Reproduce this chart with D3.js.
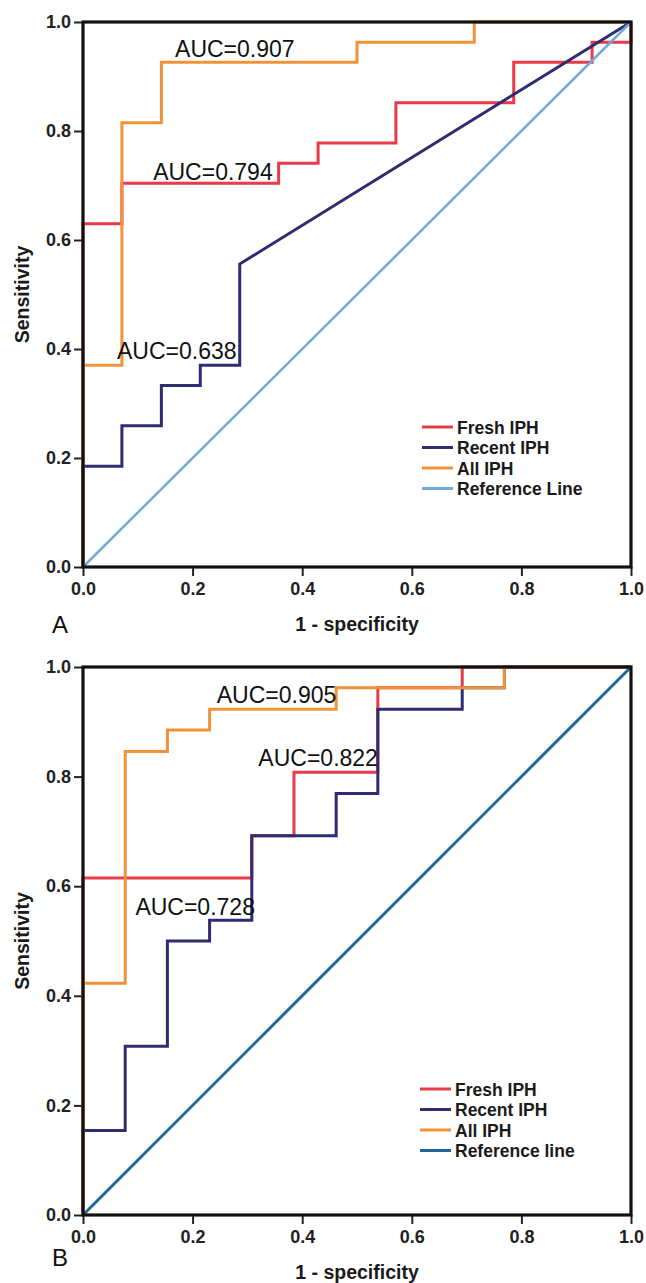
<!DOCTYPE html>
<html><head><meta charset="utf-8">
<script src="https://cdn.jsdelivr.net/npm/d3@7"></script>
<style>body{margin:0;background:#fff}svg{display:block}text{font-family:"Liberation Sans",Arial,sans-serif}</style>
</head><body>
<script>
// ---------- data ----------
const seriesNames = ["Fresh IPH", "Recent IPH", "All IPH"];
const refNameA = "Reference Line";
const refNameB = "Reference line";
const tickValues = [0.0, 0.2, 0.4, 0.6, 0.8, 1.0];

// Panel A
const fprFreshA = [0, 0, 0.071, 0.071, 0.357, 0.357, 0.429, 0.429, 0.571, 0.571, 0.786, 0.786, 0.929, 0.929, 1, 1];
const tprFreshA = [0, 0.630, 0.630, 0.704, 0.704, 0.741, 0.741, 0.778, 0.778, 0.852, 0.852, 0.926, 0.926, 0.963, 0.963, 1];
const fprRecentA = [0, 0, 0.071, 0.071, 0.143, 0.143, 0.214, 0.214, 0.286, 0.286, 1];
const tprRecentA = [0, 0.185, 0.185, 0.259, 0.259, 0.333, 0.333, 0.370, 0.370, 0.556, 1];
const fprAllA = [0, 0, 0.071, 0.071, 0.143, 0.143, 0.500, 0.500, 0.714, 0.714, 1];
const tprAllA = [0, 0.370, 0.370, 0.815, 0.815, 0.926, 0.926, 0.963, 0.963, 1, 1];
const aucA = ["AUC=0.794", "AUC=0.638", "AUC=0.907"];

// Panel B
const fprFreshB = [0, 0, 0.308, 0.308, 0.385, 0.385, 0.538, 0.538, 0.692, 0.692, 1];
const tprFreshB = [0, 0.615, 0.615, 0.692, 0.692, 0.808, 0.808, 0.962, 0.962, 1, 1];
const fprRecentB = [0, 0, 0.077, 0.077, 0.154, 0.154, 0.231, 0.231, 0.308, 0.308, 0.462, 0.462, 0.538, 0.538, 0.692, 0.692, 0.769, 0.769, 1];
const tprRecentB = [0, 0.154, 0.154, 0.308, 0.308, 0.500, 0.500, 0.538, 0.538, 0.692, 0.692, 0.769, 0.769, 0.923, 0.923, 0.962, 0.962, 1, 1];
const fprAllB = [0, 0, 0.077, 0.077, 0.154, 0.154, 0.231, 0.231, 0.462, 0.462, 0.769, 0.769, 1];
const tprAllB = [0, 0.423, 0.423, 0.846, 0.846, 0.885, 0.885, 0.923, 0.923, 0.962, 0.962, 1, 1];
const aucB = ["AUC=0.822", "AUC=0.728", "AUC=0.905"];

const refX = [0, 1];
const refY = [0, 1];

// ---------- drawing ----------
const W = 646, H = 1283;
const svg = d3.select("body").append("svg").attr("width", W).attr("height", H);
const colors = ["#e83a48", "#2f2d72", "#f29238"];

function zip(xs, ys) { return xs.map((x, i) => [x, ys[i]]); }

function panel(opt) {
  const x = d3.scaleLinear().domain([0, 1]).range([opt.left, opt.left + opt.w]);
  const y = d3.scaleLinear().domain([0, 1]).range([opt.top + opt.h, opt.top]);
  const g = svg.append("g");
  const line = d3.line().x(d => x(d[0])).y(d => y(d[1]));

  // axes
  const ax = g.append("g").attr("transform", `translate(0,${opt.top + opt.h})`)
    .call(d3.axisBottom(x).tickValues(tickValues).tickFormat(d3.format(".1f")).tickSize(9).tickPadding(6));
  const ay = g.append("g").attr("transform", `translate(${opt.left},0)`)
    .call(d3.axisLeft(y).tickValues(tickValues).tickFormat(d3.format(".1f")).tickSize(9).tickPadding(3));
  [ax, ay].forEach(a => {
    a.select(".domain").remove();
    a.selectAll("line").attr("stroke", "#222").attr("stroke-width", 2);
    a.selectAll("text").attr("font-size", 18).attr("font-weight", "bold").attr("fill", "#222")
      .attr("font-family", '"Liberation Sans",Arial,sans-serif');
  });

  // series (drawn Fresh, Recent, All, then reference on top)
  opt.series.forEach((s, i) => {
    g.append("path").datum(zip(s[0], s[1])).attr("d", line)
      .attr("fill", "none").attr("stroke", colors[i]).attr("stroke-width", 3).attr("stroke-linejoin", "miter");
  });
  g.append("path").datum(zip(refX, refY)).attr("d", line)
    .attr("fill", "none").attr("stroke", opt.refColor).attr("stroke-width", opt.refWidth);

  // frame
  g.append("rect").attr("x", opt.left).attr("y", opt.top).attr("width", opt.w).attr("height", opt.h)
    .attr("fill", "none").attr("stroke", "#111").attr("stroke-width", 3.2);

  // AUC labels
  opt.auc.forEach((t, i) => {
    g.append("text").attr("x", x(opt.aucPos[i][0])).attr("y", y(opt.aucPos[i][1]))
      .attr("font-size", 23).attr("fill", "#111").text(t);
  });

  // legend
  const names = seriesNames.concat([opt.refName]);
  const lc = colors.concat([opt.refColor]);
  names.forEach((n, i) => {
    const yy = opt.legY + i * 20.5;
    g.append("line").attr("x1", opt.legX).attr("x2", opt.legX + 31).attr("y1", yy).attr("y2", yy)
      .attr("stroke", lc[i]).attr("stroke-width", 3);
    g.append("text").attr("x", opt.legX + 35).attr("y", yy + 6.5).attr("font-size", 17.5)
      .attr("font-weight", "bold").attr("fill", "#1a1a1a").text(n);
  });

  // axis titles
  g.append("text").attr("x", opt.left + opt.w / 2).attr("y", opt.top + opt.h + 64)
    .attr("text-anchor", "middle").attr("font-size", 19.5).attr("font-weight", "bold").attr("fill", "#1a1a1a")
    .text("1 - specificity");
  g.append("text").attr("transform", `translate(${29},${opt.top + opt.h / 2}) rotate(-90)`)
    .attr("text-anchor", "middle").attr("font-size", 19.5).attr("font-weight", "bold").attr("fill", "#1a1a1a")
    .text("Sensitivity");

  // panel letter
  g.append("text").attr("x", 52).attr("y", opt.letterY).attr("font-size", 24).attr("fill", "#111").text(opt.letter);
}

panel({
  left: 83, top: 22, w: 548, h: 545,
  series: [[fprFreshA, tprFreshA], [fprRecentA, tprRecentA], [fprAllA, tprAllA]],
  refColor: "#72aad8", refWidth: 2.5, refName: refNameA,
  auc: aucA, aucPos: [[0.128, 0.710], [0.062, 0.382], [0.168, 0.936]],
  legX: 422, legY: 427, letter: "A", letterY: 633
});
panel({
  left: 83, top: 667, w: 548, h: 548,
  series: [[fprFreshB, tprFreshB], [fprRecentB, tprRecentB], [fprAllB, tprAllB]],
  refColor: "#216797", refWidth: 3, refName: refNameB,
  auc: aucB, aucPos: [[0.320, 0.820], [0.0956, 0.547], [0.244, 0.934]],
  legX: 420, legY: 1089, letter: "B", letterY: 1266
});
</script>
</body></html>
